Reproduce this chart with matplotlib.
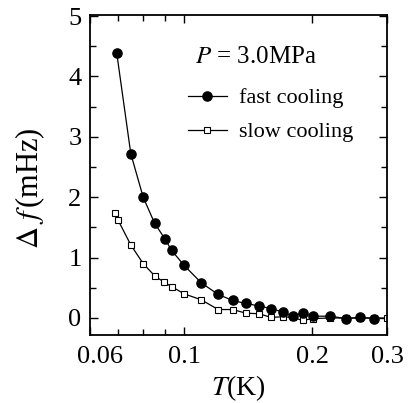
import matplotlib
matplotlib.use("Agg")
import matplotlib.pyplot as plt
from matplotlib.ticker import FixedLocator, NullFormatter
from matplotlib.transforms import ScaledTranslation

# Données
T_rapide = [0.0694, 0.0749, 0.0801, 0.0852, 0.0901, 0.0934, 0.100, 0.1098, 0.1202, 0.130,
            0.1397, 0.1499, 0.160, 0.1703, 0.1798, 0.1898, 0.2004, 0.2206, 0.240, 0.2595, 0.279]
df_rapide = [4.39, 2.72, 2.00, 1.57, 1.31, 1.12, 0.87, 0.58, 0.39, 0.29,
             0.24, 0.20, 0.155, 0.10, 0.03, 0.08, 0.03, 0.03, -0.01, 0.01, -0.01]

T_lent = [0.0688, 0.0698, 0.0749, 0.0801, 0.0852, 0.0898, 0.0934, 0.100, 0.1098, 0.1202,
          0.130, 0.1397, 0.150, 0.160, 0.1703, 0.1798, 0.1898, 0.2004, 0.2206, 0.240,
          0.2595, 0.279, 0.300]
df_lent = [1.74, 1.63, 1.21, 0.90, 0.70, 0.59, 0.52, 0.40, 0.30, 0.14,
           0.14, 0.08, 0.07, 0.01, 0.02, 0.01, -0.04, -0.01, 0.0, 0.0,
           0.0, 0.0, 0.0]

ticks_x = [0.06, 0.1, 0.2, 0.3]
labels_x = ["0.06", "0.1", "0.2", "0.3"]
ticks_x_mineurs = [0.07, 0.08, 0.09]

plt.rcParams["font.family"] = "Liberation Serif"
plt.rcParams["mathtext.fontset"] = "stix"

fig = plt.figure(figsize=(4.14, 4.03), dpi=100)
ax = fig.add_axes([0.217, 0.169, 0.718, 0.794])

ax.plot(T_lent, df_lent, color="black", lw=0.9, marker="s", ms=4.3,
        mfc="white", mec="black", mew=0.8, label="slow cooling", zorder=2)
ax.plot(T_rapide, df_rapide, color="black", lw=0.9, marker="o", ms=6.6,
        mfc="black", mec="black", label="fast cooling", zorder=3)

ax.set_xscale("log")
ax.set_xlim(0.06, 0.3)
ax.set_ylim(-0.28, 5.02)

ax.xaxis.set_major_locator(FixedLocator(ticks_x))
ax.set_xticklabels(labels_x)
ax.xaxis.set_minor_locator(FixedLocator(ticks_x_mineurs))
ax.xaxis.set_minor_formatter(NullFormatter())
ax.set_yticks([0, 1, 2, 3, 4, 5])
ax.set_yticks([0.5, 1.5, 2.5, 3.5, 4.5], minor=True)

ax.tick_params(which="both", direction="in", top=True, right=True, labelsize=19, width=1)
ax.tick_params(which="major", length=6)
ax.tick_params(which="minor", length=4)
ax.tick_params(axis="y", pad=6)
ax.tick_params(axis="x", pad=8)
for s in ax.spines.values():
    s.set_linewidth(1.3)

# "0.06" un peu décalé vers la droite comme sur l'original
lab = ax.get_xticklabels()[0]
lab.set_transform(lab.get_transform() + ScaledTranslation(7 / 72, 0, fig.dpi_scale_trans))

ax.set_xlabel(r"$T$(K)", fontsize=20)
ax.xaxis.set_label_coords(0.5, -0.12)
ax.set_ylabel(r"$\Delta\ f\,$(mHz)", fontsize=22)
ax.yaxis.set_label_coords(-0.145, 0.46)

ax.text(0.355, 0.87, r"$P$ = 3.0MPa", transform=ax.transAxes, fontsize=18, va="center")

# Légende (rapide puis lent)
h, l = ax.get_legend_handles_labels()
ax.legend([h[1], h[0]], [l[1], l[0]], loc="upper left", bbox_to_anchor=(0.33, 0.772),
          frameon=False, fontsize=16, handlelength=1.75, handletextpad=0.55,
          labelspacing=0.6, borderpad=0, borderaxespad=0)

fig.savefig("out.png", dpi=100)
